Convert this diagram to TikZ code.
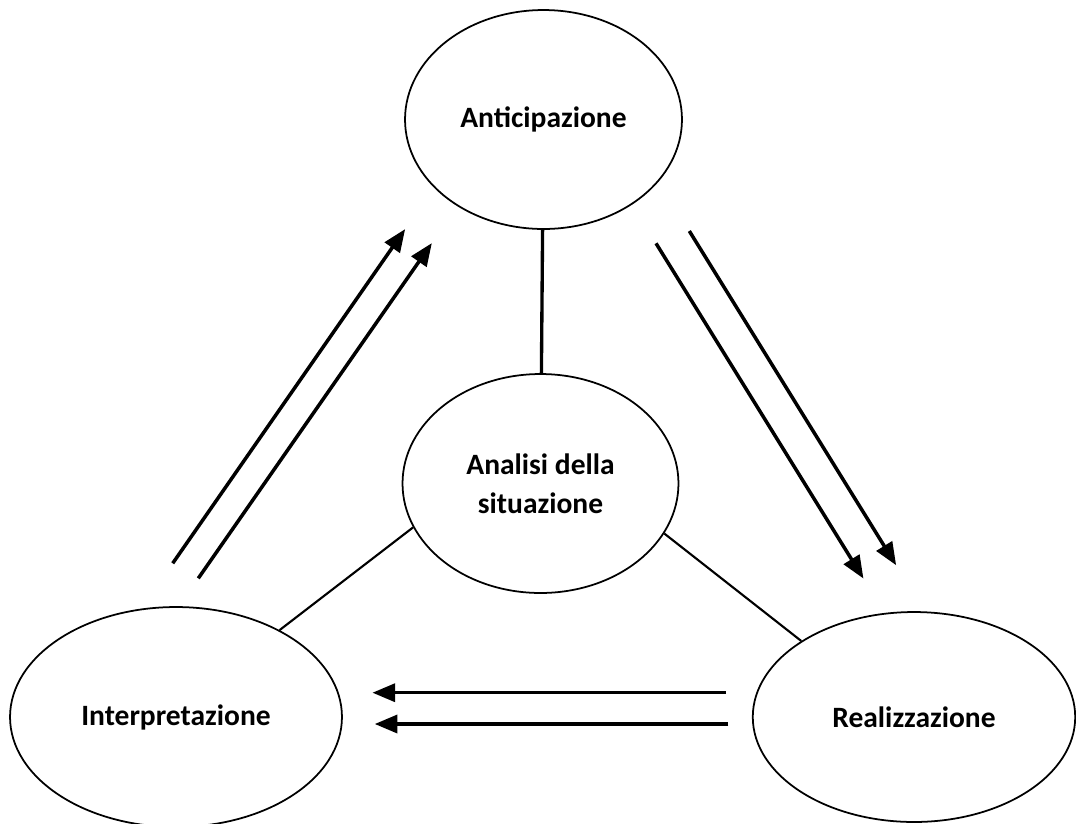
\documentclass[tikz,border=0pt]{standalone}
\usepackage{fontspec}
\setmainfont{Carlito}
\usepackage{tikz}
\usetikzlibrary{arrows,shapes.geometric}

\begin{document}
\begin{tikzpicture}[>=triangle 45,x=0.02cm,y=-0.02cm,
    fase/.style={draw,ellipse,line width=1pt,inner sep=0pt,align=center,
        font=\fontsize{16.8}{22.4}\selectfont\bfseries},
    freccia/.style={->,line width=2pt},
    legame/.style={line width=1.2pt}]
        \useasboundingbox (0,0) rectangle (1076,823);
        % le quattro fasi
        \node[fase,minimum width=5.54cm,minimum height=4.38cm] (antic) at (543.5,119.5) {Anticipazione};
        \node[fase,minimum width=5.52cm,minimum height=4.38cm] (analisi) at (540.5,483.5) {Analisi della\\situazione};
        \node[fase,minimum width=6.64cm,minimum height=4.40cm] (interp) at (176,717) {Interpretazione};
        \node[fase,minimum width=6.45cm,minimum height=4.20cm] (realiz) at (914,717) {Realizzazione};
        % legami con l'analisi
        \draw [line width=1.9pt] (antic) -- (analisi);
        \draw [legame] (analisi.199) -- (interp.40);
        \draw [legame] (analisi.338) -- (realiz.146);
        % estremi delle frecce
        \coordinate (ia) at (172.7,563.3);
        \coordinate (ib) at (198.3,578.3);
        \coordinate (aa) at (405,229.3);
        \coordinate (ab) at (431.7,243.3);
        \coordinate (ra) at (656,243.3);
        \coordinate (rb) at (689.3,231);
        \coordinate (sa) at (863.3,578.3);
        \coordinate (sb) at (896,565);
        \coordinate (ta) at (726,692.7);
        \coordinate (tb) at (728.3,724);
        \coordinate (ua) at (372.7,692.7);
        \coordinate (ub) at (375,724);
        \draw [freccia] (ia) -- (aa);
        \draw [freccia] (ib) -- (ab);
        \draw [freccia] (ra) -- (sa);
        \draw [freccia] (rb) -- (sb);
        \draw [freccia] (ta) -- (ua);
        \draw [freccia] (tb) -- (ub);
\end{tikzpicture}
\end{document}
